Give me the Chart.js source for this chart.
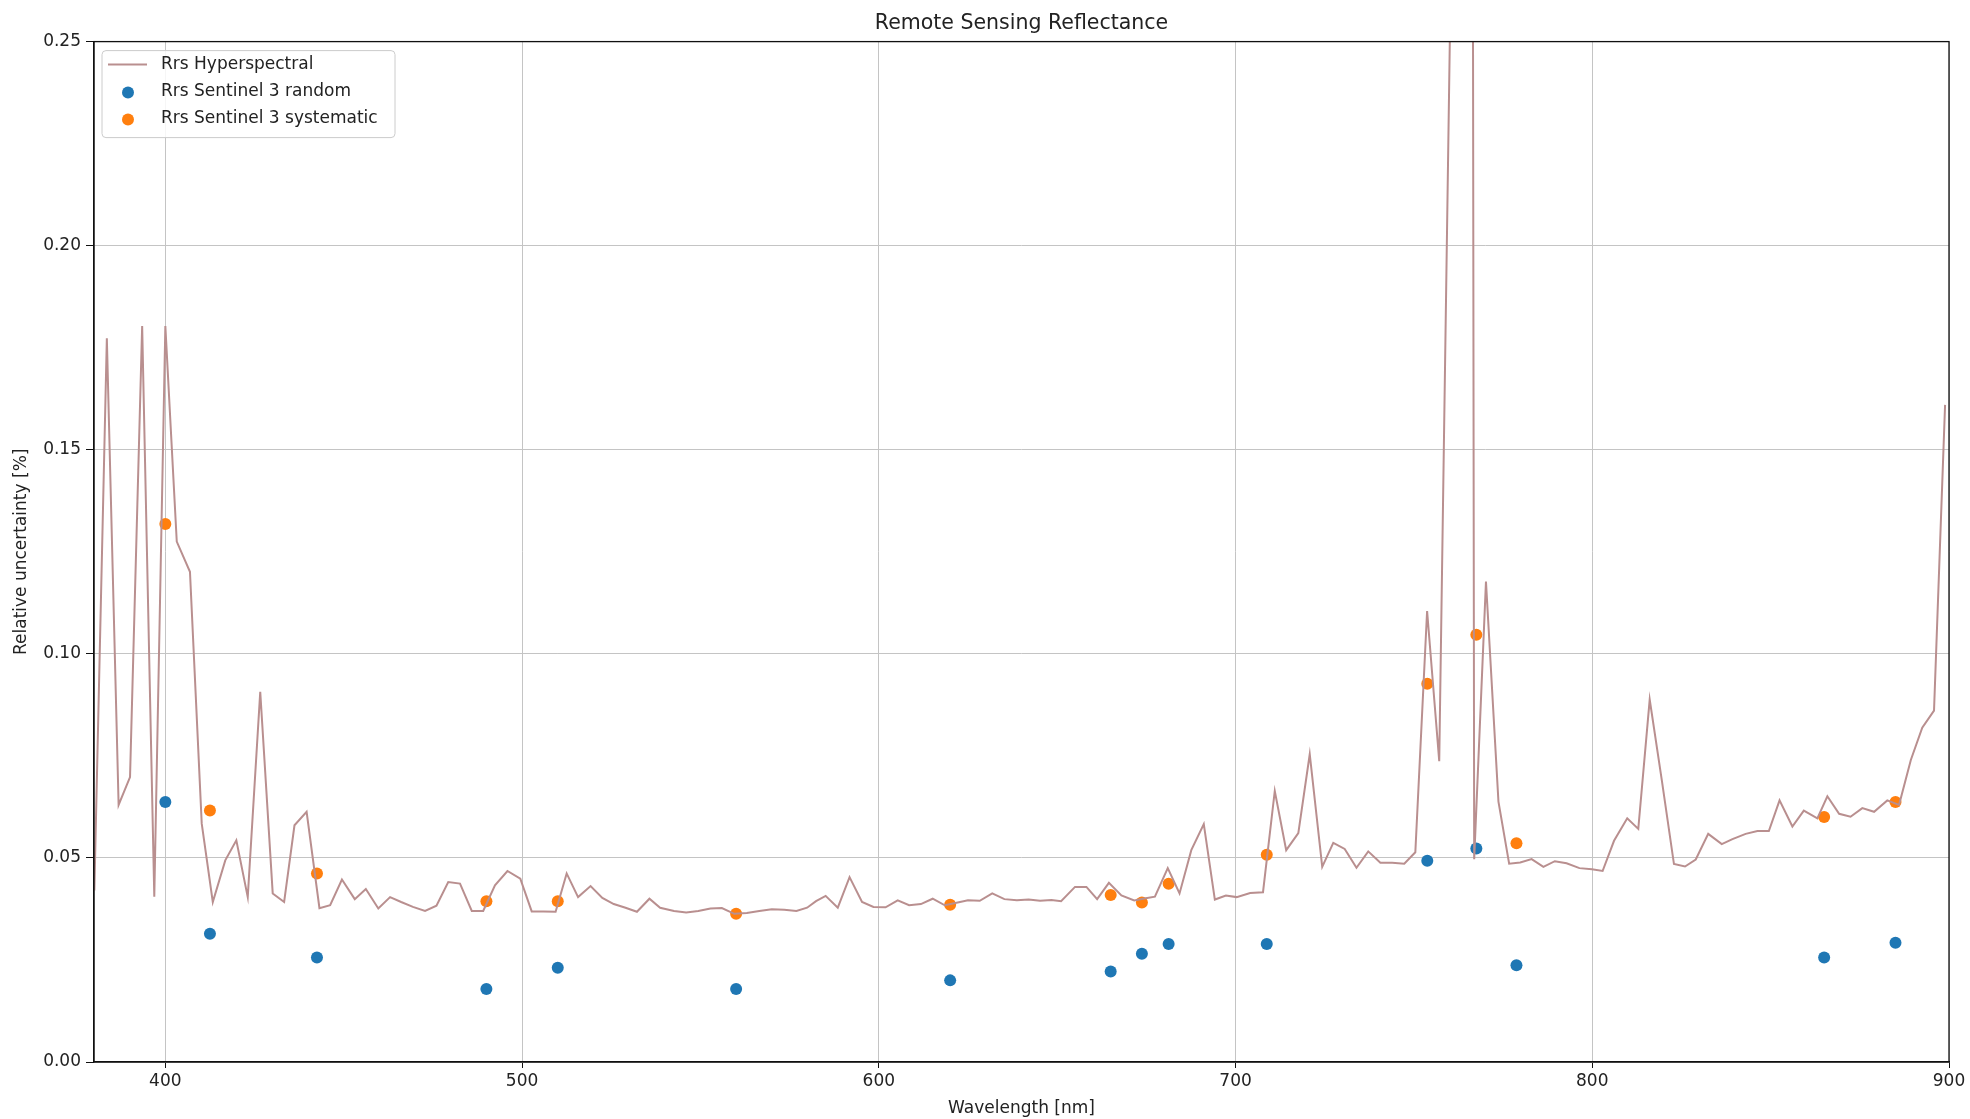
<!DOCTYPE html>
<html>
<head>
<meta charset="utf-8">
<title>Remote Sensing Reflectance</title>
<script src="https://cdn.jsdelivr.net/npm/chart.js@4.4.1/dist/chart.umd.min.js"></script>
<style>
  html, body { margin: 0; padding: 0; background: #fff; }
  #wrap { width: 1970px; height: 1119px; }
</style>
</head>
<body>
<div id="wrap"><canvas id="chart_rrs" width="1970" height="1119"></canvas></div>
<script>
// hyperspectral Rrs uncertainty
const hyperWavelength = [
  380.1, 383.6, 386.9, 390.1, 393.5, 396.9, 400.0, 403.2, 406.9, 410.2,
  413.3, 416.8, 419.9, 423.1, 426.6, 430.1, 433.3, 436.2, 439.6, 443.2,
  446.2, 449.5, 453.1, 456.2, 459.7, 463.0, 466.1, 469.4, 472.8, 476.0,
  479.3, 482.6, 485.9, 489.1, 492.4, 495.9, 499.5, 502.7, 506.0, 509.4,
  512.5, 515.7, 519.2, 522.5, 525.7, 529.0, 532.2, 535.7, 538.7, 542.6,
  546.0, 549.4, 552.8, 556.0, 559.5, 563.0, 566.5, 570.0, 573.5, 576.9,
  579.9, 582.4, 585.1, 588.5, 591.8, 595.3, 598.5, 601.9, 605.3, 608.5,
  611.8, 615.1, 618.5, 621.8, 625.0, 628.3, 631.8, 635.2, 638.7, 642.0,
  645.2, 648.4, 651.1, 655.0, 658.2, 661.2, 664.5, 668.0, 671.6, 674.8,
  677.4, 681.0, 684.3, 687.6, 691.1, 694.2, 697.3, 700.3, 704.1, 707.7,
  711.0, 714.2, 717.6, 720.8, 724.3, 727.4, 730.6, 733.9, 737.2, 740.6,
  743.9, 747.3, 750.4, 753.7, 757.1, 760.4, 763.7, 766.9, 770.2, 773.7,
  776.7, 779.8, 783.0, 786.3, 789.5, 792.8, 796.4, 799.9, 802.9, 806.1,
  809.8, 812.9, 816.1, 819.5, 822.9, 826.0, 829.0, 832.5, 836.3, 839.3,
  843.0, 846.3, 849.5, 852.5, 856.1, 859.3, 863.1, 865.9, 869.2, 872.4,
  875.7, 879.0, 882.7, 886.0, 889.3, 892.5, 895.8, 898.9
];
const hyperRrs = [
  0.0420, 0.1773, 0.0630, 0.0698, 0.1803, 0.0405, 0.1803, 0.1275, 0.1201, 0.0584,
  0.0392, 0.0494, 0.0543, 0.0404, 0.0907, 0.0413, 0.0392, 0.0580, 0.0613, 0.0377,
  0.0384, 0.0447, 0.0399, 0.0424, 0.0376, 0.0404, 0.0392, 0.0380, 0.0370, 0.0383,
  0.0441, 0.0437, 0.0370, 0.0370, 0.0433, 0.0468, 0.0449, 0.0369, 0.0369, 0.0368,
  0.0462, 0.0404, 0.0431, 0.0402, 0.0387, 0.0378, 0.0368, 0.0400, 0.0378, 0.0370,
  0.0366, 0.0370, 0.0376, 0.0377, 0.0363, 0.0365, 0.0370, 0.0374, 0.0373, 0.0370,
  0.0378, 0.0394, 0.0407, 0.0378, 0.0453, 0.0392, 0.0380, 0.0379, 0.0396, 0.0384,
  0.0387, 0.0400, 0.0384, 0.0390, 0.0396, 0.0395, 0.0413, 0.0399, 0.0396, 0.0398,
  0.0395, 0.0397, 0.0394, 0.0429, 0.0429, 0.0399, 0.0439, 0.0408, 0.0396, 0.0401,
  0.0405, 0.0475, 0.0413, 0.0519, 0.0583, 0.0398, 0.0408, 0.0404, 0.0414, 0.0416,
  0.0664, 0.0519, 0.0561, 0.0754, 0.0478, 0.0537, 0.0522, 0.0476, 0.0516, 0.0488,
  0.0488, 0.0486, 0.0514, 0.1105, 0.0737, 0.2700, 2.0000, 0.0497, 0.1177, 0.0638,
  0.0486, 0.0489, 0.0497, 0.0478, 0.0492, 0.0487, 0.0475, 0.0472, 0.0468, 0.0542,
  0.0597, 0.0571, 0.0888, 0.0690, 0.0485, 0.0479, 0.0496, 0.0559, 0.0534, 0.0546,
  0.0559, 0.0566, 0.0566, 0.0641, 0.0577, 0.0616, 0.0597, 0.0651, 0.0608, 0.0601,
  0.0622, 0.0613, 0.0641, 0.0630, 0.0740, 0.0819, 0.0861, 0.1610
];

// Sentinel 3 OLCI bands
const s3Bands = [400, 412.5, 442.5, 490, 510, 560, 620, 665, 673.75, 681.25, 708.75, 753.75, 767.5, 778.75, 865, 885];
const s3Random = [0.0637, 0.0314, 0.0256, 0.0179, 0.0231, 0.0179, 0.0200, 0.0222, 0.0265, 0.0289, 0.0289, 0.0493, 0.0523, 0.0237, 0.0256, 0.0292];
const s3Systematic = [0.1318, 0.0616, 0.0462, 0.0394, 0.0394, 0.0363, 0.0385, 0.0409, 0.0391, 0.0437, 0.0508, 0.0927, 0.1047, 0.0536, 0.0600, 0.0637];

const xTicks = [400, 500, 600, 700, 800, 900];
const yTicks = [0, 0.05, 0.10, 0.15, 0.20, 0.25];

const FONT = "'DejaVu Sans', sans-serif";
const lineColor = '#b98f8f';
const blue = '#1f77b4';
const orange = '#ff7f0e';

function toPoints(xs, ys) {
  return xs.map((x, i) => ({ x: x, y: ys[i] }));
}

// matplotlib-like frame (top/right spines) and legend inside the axes
const frameAndLegend = {
  id: 'frameAndLegend',
  afterDraw(chart) {
    const { ctx, chartArea: a } = chart;
    ctx.save();
    ctx.strokeStyle = '#111';
    ctx.lineWidth = 1.3;
    ctx.strokeRect(a.left, a.top, a.right - a.left, a.bottom - a.top);

    const bx = a.left + 8, by = a.top + 9, bw = 293, bh = 87;
    ctx.fillStyle = 'rgba(255,255,255,0.85)';
    ctx.strokeStyle = '#cccccc';
    ctx.lineWidth = 1;
    ctx.beginPath();
    if (ctx.roundRect) ctx.roundRect(bx, by, bw, bh, 4);
    else ctx.rect(bx, by, bw, bh);
    ctx.fill();
    ctx.stroke();

    ctx.font = '17px ' + FONT;
    ctx.textBaseline = 'middle';
    ctx.textAlign = 'left';
    chart.data.datasets.forEach((ds, i) => {
      const ry = by + 14 + i * 27;
      if (ds.showLine) {
        ctx.strokeStyle = ds.borderColor;
        ctx.lineWidth = ds.borderWidth;
        ctx.beginPath();
        ctx.moveTo(bx + 6, ry);
        ctx.lineTo(bx + 45, ry);
        ctx.stroke();
      } else {
        ctx.fillStyle = ds.backgroundColor;
        ctx.beginPath();
        ctx.arc(bx + 26, ry + 1, 6, 0, Math.PI * 2);
        ctx.fill();
      }
      ctx.fillStyle = '#222';
      ctx.fillText(ds.label, bx + 59, ry);
    });
    ctx.restore();
  }
};

const chart = new Chart(
  document.getElementById('chart_rrs'),
  {
    type: 'scatter',
    data: {
      datasets: [
        {
          label: 'Rrs Hyperspectral',
          data: toPoints(hyperWavelength, hyperRrs),
          showLine: true,
          borderColor: lineColor,
          backgroundColor: lineColor,
          borderWidth: 2,
          pointRadius: 0,
          tension: 0,
          order: 0
        },
        {
          label: 'Rrs Sentinel 3 random',
          data: toPoints(s3Bands, s3Random),
          backgroundColor: blue,
          borderWidth: 0,
          pointRadius: 6,
          order: 2
        },
        {
          label: 'Rrs Sentinel 3 systematic',
          data: toPoints(s3Bands, s3Systematic),
          backgroundColor: orange,
          borderWidth: 0,
          pointRadius: 6,
          order: 1
        }
      ]
    },
    options: {
      responsive: false,
      animation: false,
      devicePixelRatio: 1,
      layout: { padding: { left: 0, right: 21, top: 0, bottom: 0 } },
      scales: {
        x: {
          type: 'linear',
          min: 380,
          max: 900,
          afterBuildTicks: (scale) => { scale.ticks = xTicks.map(v => ({ value: v })); },
          afterFit: (scale) => { scale.height = 57; },
          ticks: {
            color: '#222',
            font: { family: FONT, size: 17 },
            padding: 3,
            maxRotation: 0
          },
          grid: {
            color: '#c4c4c4',
            lineWidth: 1,
            tickLength: 6,
            tickColor: '#111'
          },
          border: { display: true, color: '#111', width: 1.3 },
          title: {
            display: true,
            text: 'Wavelength [nm]',
            color: '#222',
            font: { family: FONT, size: 17 },
            padding: { top: 0, bottom: 0 }
          }
        },
        y: {
          type: 'linear',
          min: 0,
          max: 0.25,
          afterBuildTicks: (scale) => { scale.ticks = yTicks.map(v => ({ value: v })); },
          afterFit: (scale) => { scale.width = 94; },
          ticks: {
            color: '#222',
            font: { family: FONT, size: 17 },
            padding: 5,
            callback: (v) => Number(v).toFixed(2)
          },
          grid: {
            color: '#c4c4c4',
            lineWidth: 1,
            tickLength: 8,
            tickColor: '#111'
          },
          border: { display: true, color: '#111', width: 1.3 },
          title: {
            display: true,
            text: 'Relative uncertainty [%]',
            color: '#222',
            font: { family: FONT, size: 17 },
            padding: { top: 11, bottom: 0 }
          }
        }
      },
      plugins: {
        legend: { display: false },
        tooltip: { enabled: false },
        title: {
          display: true,
          fullSize: false,
          text: 'Remote Sensing Reflectance',
          color: '#222',
          font: { family: FONT, size: 20.5, weight: 'normal' },
          padding: { top: 11, bottom: 6 }
        }
      }
    },
    plugins: [frameAndLegend]
  }
);
</script>
</body>
</html>
